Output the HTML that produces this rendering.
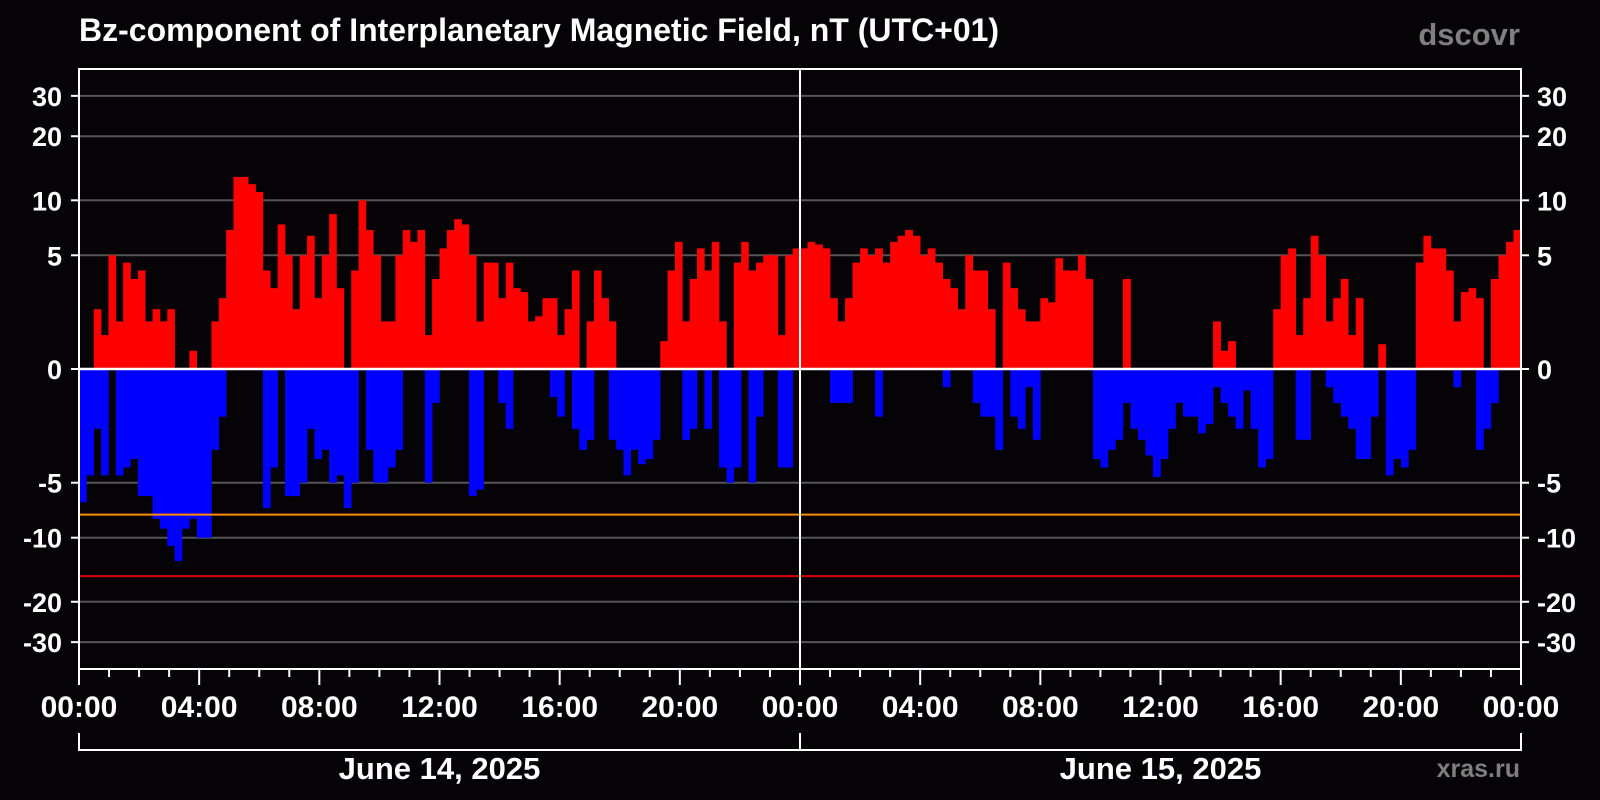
<!DOCTYPE html>
<html><head><meta charset="utf-8"><style>
html,body{margin:0;padding:0;background:#050306;width:1600px;height:800px;overflow:hidden}
svg{display:block}
text{font-family:"Liberation Sans",Arial,sans-serif;font-weight:bold}
</style></head><body>
<svg id="chart" width="1600" height="800" viewBox="0 0 1600 800" xmlns="http://www.w3.org/2000/svg">
<rect x="0" y="0" width="1600" height="800" fill="#050306"/>
<text x="79" y="41" fill="#fff" font-size="32">Bz-component of Interplanetary Magnetic Field, nT (UTC+01)</text>
<text x="1520" y="45" fill="#7f7f7f" font-size="31" text-anchor="end">dscovr</text>
<text x="1520" y="777" fill="#7f7f7f" font-size="25" text-anchor="end" font-weight="normal">xras.ru</text>
<g id="grid"></g>
<g id="bars"></g>
<g id="overlay"></g>
<g id="axes"></g>
</svg>
<script>
const yTicks = [30, 20, 10, 5, 0, -5, -10, -20, -30];
const yTickLabels = ["30", "20", "10", "5", "0", "-5", "-10", "-20", "-30"];
const xTickHours = [0, 4, 8, 12, 16, 20, 24, 28, 32, 36, 40, 44, 48];
const xTickLabels = ["00:00","04:00","08:00","12:00","16:00","20:00","00:00","04:00","08:00","12:00","16:00","20:00","00:00"];
const dayLabels = ["June 14, 2025", "June 15, 2025"];
const thresholdOrange = -7.6;
const thresholdRed = -15.3;
const dayOneMax = [0,0,2,1,5,1.5,4.5,3.5,4,1.5,2,1.5,2,0,0,0.5,0,0,1.5,2.5,7,13,13,12,11,4,3,7.5,5,2,5,6.5,2.5,5,8.5,3,0,4,10,7,5,1.5,1.5,5,7,6,7,1,
3.5,5.5,7,8,7.5,5,1.5,4.5,4.5,2.5,4.5,3,2.8,1.5,1.7,2.5,2.5,1,2,4,0,1.5,4,2.5,1.5,0,0,0,0,0,0,0.8,4,6,1.5,3.5,5.5,4,6,1.5,0,4.5,6,4,4.5,5,5,1,5,5.5];
const dayOneMin = [-6.5,-4.5,-2,-4.5,0,-4.5,-4,-3.5,-6,-6,-8,-9,-11,-13,-9,-8,-10,-10,-3,-1.5,0,0,0,0,0,-7,-4,0,-6,-6,-5,-2,-3.5,-3,-5,-4.5,-7,-5,0,-3,-5,-5,-4,-3,0,0,0,-5,
-1,0,0,0,0,-6,-5.5,0,0,-1,-2,0,0,0,0,0,-0.8,-1.5,0,-2,-3,-2.5,0,0,-2.5,-3,-4.5,-3,-3.8,-3.5,-2.5,0,0,0,-2.5,-2,0,-2,0,-4,-5,-4,0,-5,-1.5,0,0,-4,-4,0];
const dayTwoMax = [5.5,6,5.8,5.5,2.5,1.5,2.5,4.5,5.5,5,5.5,4.5,6,6.5,7,6.5,5,5.5,4.5,3.5,3,2,5,4,4,2,0,4.5,3,2,1.5,1.5,2.5,2.3,4.8,4,4,5,3.5,0,0,0,0,3.5,0,0,0,0,0,0,0,0,0,0,0,1.5,0.5,0.8,0,0,0,0,0,2,5,5.5,1,2.5,6.5,5,1.5,2.5,3.5,1,2.5,0,0,0.7,0,0,0,0,4.5,6.5,5.5,5.5,4,1.5,2.8,3,2.5,0,3.5,5,6,7];
const dayTwoMin = [0,0,0,0,-1,-1,-1,0,0,0,-1.5,0,0,0,0,0,0,0,0,-0.5,0,0,0,-1,-1.5,-1.5,-3,0,-1.5,-2,-0.5,-2.5,0,0,0,0,0,0,0,-3.5,-4,-3,-2.5,-1,-2,-2.5,-3.3,-4.6,-3.5,-2,-1,-1.5,-1.5,-2.2,-1.8,-0.5,-1,-1.5,-2,-0.6,-2,-4,-3.5,0,0,0,-2.5,-2.5,0,0,-0.5,-1,-1.5,-2,-3.5,-3.5,-1.5,0,-4.5,-3.5,-4,-3,0,0,0,0,0,-0.5,0,0,-3,-2,-1,0,0,0];

const NS = "http://www.w3.org/2000/svg";
const L = 79, R = 1521, T = 69, B = 669, Y0 = 369;
function xScale(h){ return L + (R - L) * h / 48; }
function yScale(v){ const o = 111 * Math.log(1 + Math.abs(v) / 2.8); return v >= 0 ? Y0 - o : Y0 + o; }
function mk(tag, attrs, parent){ const e = document.createElementNS(NS, tag); for (const k in attrs) e.setAttribute(k, attrs[k]); parent.appendChild(e); return e; }

const grid = document.getElementById('grid');
const bars = document.getElementById('bars');
const overlay = document.getElementById('overlay');
const axes = document.getElementById('axes');

yTicks.forEach((v, i) => {
  const y = yScale(v);
  if (v !== 0) {
    const g = mk('line', {x1: L, x2: R, y1: y, y2: y, stroke: '#555', 'stroke-width': 2}, grid);
    
    
  }
  const t1 = mk('line', {x1: L - 8, x2: L, y1: y, y2: y, stroke: '#fff', 'stroke-width': 2}, axes);
  
  
  const t2 = mk('line', {x1: R, x2: R + 8, y1: y, y2: y, stroke: '#fff', 'stroke-width': 2}, axes);
  
  
  const lt = mk('text', {x: 62, y: y + 10, fill: '#fff', 'font-size': 27, 'text-anchor': 'end'}, axes);
  lt.textContent = yTickLabels[i];
  
  
  const rt = mk('text', {x: 1537, y: y + 10, fill: '#fff', 'font-size': 27}, axes);
  rt.textContent = yTickLabels[i];
  
  
});

function drawDay(maxArr, minArr, dayIndex){
  const n = maxArr.length;
  const w = (xScale(24) - xScale(0)) / n;
  for (let i = 0; i < n; i++) {
    const x = xScale(dayIndex * 24 + 24 * i / n);
    if (maxArr[i] > 0) {
      const r = mk('rect', {x: x, y: yScale(maxArr[i]), width: w + 0.3, height: Y0 - yScale(maxArr[i]), fill: '#ff0000'}, bars);
      
      
    }
    if (minArr[i] < 0) {
      const r = mk('rect', {x: x, y: Y0, width: w + 0.3, height: yScale(minArr[i]) - Y0, fill: '#0000ff'}, bars);
      
      
    }
  }
}
drawDay(dayOneMax, dayOneMin, 0);
drawDay(dayTwoMax, dayTwoMin, 1);

const zl = mk('line', {x1: L, x2: R, y1: Y0, y2: Y0, stroke: '#fff', 'stroke-width': 2.5}, overlay);


const ol = mk('line', {x1: L, x2: R, y1: yScale(thresholdOrange), y2: yScale(thresholdOrange), stroke: '#ff8c00', 'stroke-width': 2}, overlay);


const rl = mk('line', {x1: L, x2: R, y1: yScale(thresholdRed), y2: yScale(thresholdRed), stroke: '#e00000', 'stroke-width': 2}, overlay);


const ml = mk('line', {x1: xScale(24), x2: xScale(24), y1: T, y2: B, stroke: '#fff', 'stroke-width': 2}, overlay);



const frame = mk('rect', {x: L, y: T, width: R - L, height: B - T, fill: 'none', stroke: '#fff', 'stroke-width': 2}, axes);



for (let h = 0; h <= 48; h++) {
  const x = xScale(h);
  const major = h % 4 === 0;
  const tk = mk('line', {x1: x, x2: x, y1: B, y2: B + (major ? 16 : 8), stroke: '#fff', 'stroke-width': 2}, axes);
  
  
}
xTickHours.forEach((h, i) => {
  const t = mk('text', {x: xScale(h), y: 717, fill: '#fff', 'font-size': 30, 'text-anchor': 'middle'}, axes);
  t.textContent = xTickLabels[i];
  
  
});

const br = mk('path', {d: `M${L} 733 V750 H${R} V733 M${xScale(24)} 733 V750`, stroke: '#fff', 'stroke-width': 2, fill: 'none'}, axes);


dayLabels.forEach((d, i) => {
  const t = mk('text', {x: xScale(i * 24 + 12), y: 779, fill: '#fff', 'font-size': 31, 'text-anchor': 'middle'}, axes);
  t.textContent = d;
  
  
});
</script>
</body></html>
